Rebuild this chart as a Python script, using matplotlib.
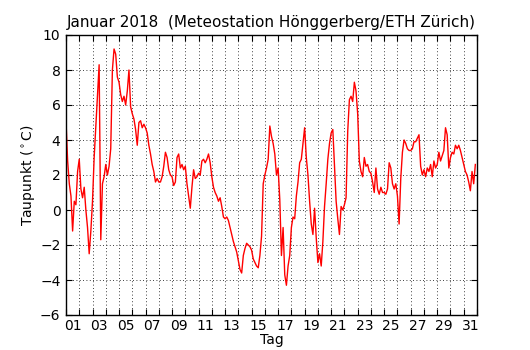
import numpy as np
import matplotlib
matplotlib.use("Agg")
import matplotlib.pyplot as plt
from matplotlib.ticker import FixedLocator, FixedFormatter

# Dew point (deg C), 3-hourly readings, one row per day of January 2018
dew_point = [
    [5.1, 2.8, 1.5, 0.8, -1.2, 0.5, 0.3, 2.2],      # 01
    [2.9, 1.2, 0.7, 1.3, 0.0, -1.0, -2.5, -1.2],    # 02
    [0.5, 3.0, 4.8, 6.5, 8.3, -1.7, 1.5, 1.9],      # 03
    [2.6, 2.0, 2.5, 3.5, 8.0, 9.2, 8.9, 7.6],       # 04
    [7.3, 6.6, 6.2, 6.5, 6.0, 6.8, 8.0, 5.9],       # 05
    [5.5, 5.2, 4.6, 3.7, 5.0, 5.1, 4.7, 4.9],       # 06
    [4.7, 4.4, 3.7, 3.2, 2.6, 2.2, 1.6, 1.8],       # 07
    [1.6, 1.6, 1.9, 2.5, 3.3, 3.0, 2.3, 2.0],       # 08
    [1.9, 1.4, 1.6, 3.0, 3.2, 2.4, 2.6, 2.3],       # 09
    [2.5, 1.5, 0.8, 0.1, 1.3, 2.3, 1.8, 1.9],       # 10
    [2.1, 2.0, 2.8, 2.9, 2.7, 2.9, 3.2, 2.7],       # 11
    [1.9, 1.3, 1.0, 0.8, 0.5, 0.7, 0.2, -0.4],      # 12
    [-0.5, -0.4, -0.6, -1.0, -1.4, -1.8, -2.1, -2.4],  # 13
    [-2.9, -3.4, -3.6, -2.6, -2.2, -1.9, -2.0, -2.1],  # 14
    [-2.3, -2.8, -3.0, -3.2, -3.3, -2.6, -1.5, 1.5],   # 15
    [2.0, 2.4, 2.9, 4.8, 4.2, 3.8, 3.2, 2.0],       # 16
    [2.4, 0.6, -2.6, -1.0, -3.7, -4.3, -3.2, -2.6], # 17
    [-1.0, -0.4, -0.5, 0.8, 1.6, 2.7, 2.9, 3.8],    # 18
    [4.7, 3.0, 2.0, 0.5, -0.8, -1.4, 0.1, -1.6],    # 19
    [-3.0, -2.5, -3.2, -1.8, 0.2, 1.5, 2.9, 3.8],   # 20
    [4.4, 4.6, 2.5, 0.5, -0.5, -1.4, 0.2, 0.0],     # 21
    [0.3, 0.7, 4.5, 6.3, 6.5, 6.2, 7.3, 6.8],       # 22
    [5.5, 2.8, 2.2, 1.9, 3.0, 2.5, 2.6, 2.2],       # 23
    [2.1, 1.6, 1.0, 2.4, 1.2, 0.9, 1.3, 1.0],       # 24
    [1.0, 0.9, 1.2, 2.7, 2.4, 1.5, 1.2, 1.5],       # 25
    [0.8, -0.8, 1.8, 3.3, 4.0, 3.8, 3.5, 3.4],      # 26
    [3.4, 3.5, 3.9, 3.9, 4.1, 4.3, 2.5, 2.0],       # 27
    [2.3, 1.9, 2.4, 2.2, 2.6, 1.9, 2.8, 2.4],       # 28
    [2.6, 3.3, 2.8, 3.1, 3.4, 4.7, 4.3, 2.4],       # 29
    [3.0, 3.3, 3.2, 3.7, 3.5, 3.7, 3.4, 3.0],       # 30
    [2.6, 2.2, 2.0, 1.6, 1.1, 2.2, 1.5, 2.6],       # 31
]
hours = [0, 3, 6, 9, 12, 15, 18, 21]
day_labels = ["%02d" % d for d in range(1, 32, 2)]

# time axis in days since 1 Jan 00:00
t = np.array([d + h / 24.0 for d in range(len(dew_point)) for h in hours])
v = np.array([x for row in dew_point for x in row])

fig = plt.figure(figsize=(5.3, 3.5), dpi=100)
ax = fig.add_axes([0.1245, 0.1, 0.7755, 0.8])

ax.plot(t, v, color="red", lw=1.0)

ax.set_xlim(0, 31)
ax.set_ylim(-6, 10)
ax.set_yticks(np.arange(-6, 11, 2))

# day boundaries carry the ticks and grid, labels sit at midday of odd days
ax.xaxis.set_major_locator(FixedLocator(np.arange(0, 32)))
ax.xaxis.set_major_formatter(FixedFormatter([""] * 32))
ax.xaxis.set_minor_locator(FixedLocator(np.arange(0, 31, 2) + 0.5))
ax.xaxis.set_minor_formatter(FixedFormatter(day_labels))

ax.tick_params(axis="both", which="major", direction="in", length=4,
               width=0.8, top=True, right=True, labelsize=10, color="black")
ax.tick_params(axis="x", which="minor", length=0, labelsize=10, pad=3)
ax.tick_params(axis="y", which="major", pad=4)

ax.grid(True, which="major", color="black", linestyle=(0, (1, 3)), lw=0.6)

for s in ax.spines.values():
    s.set_linewidth(1.0)

ax.set_title("Januar 2018  (Meteostation Hönggerberg/ETH Zürich)", fontsize=11)
ax.set_xlabel("Tag", fontsize=10, labelpad=0)
ax.set_ylabel(r"Taupunkt ($^\circ$C)", fontsize=10, labelpad=2)

fig.savefig("out.png", dpi=100)
